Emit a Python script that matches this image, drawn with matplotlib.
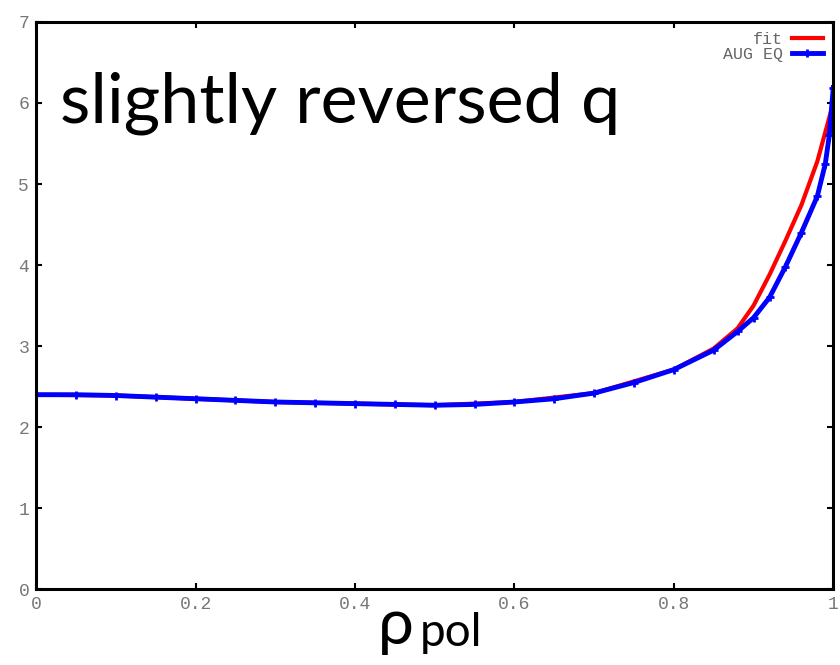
import matplotlib
matplotlib.use("Agg")
import matplotlib.pyplot as plt

# blue: AUG EQ profile, red: fit
rho_eq = [0.0, 0.05, 0.10, 0.15, 0.20, 0.25, 0.30, 0.35, 0.40, 0.45, 0.50, 0.55,
          0.60, 0.65, 0.70, 0.75, 0.80, 0.85, 0.88, 0.90, 0.92, 0.94, 0.96, 0.98,
          0.99, 0.995, 1.0]
q_eq = [2.40, 2.40, 2.39, 2.37, 2.35, 2.33, 2.31, 2.30, 2.29, 2.28, 2.27, 2.28,
        2.31, 2.35, 2.42, 2.55, 2.71, 2.95, 3.18, 3.35, 3.60, 3.98, 4.40, 4.85,
        5.25, 5.60, 6.19]

rho_fit = [0.0, 0.10, 0.20, 0.30, 0.40, 0.50, 0.60, 0.70, 0.80, 0.85, 0.88,
           0.90, 0.92, 0.94, 0.96, 0.98, 1.0]
q_fit = [2.40, 2.39, 2.35, 2.31, 2.29, 2.27, 2.31, 2.42, 2.71, 2.97, 3.22,
         3.50, 3.88, 4.30, 4.74, 5.28, 6.00]

xticks = [0, 0.2, 0.4, 0.6, 0.8, 1]
xticklabels = ["0", "0.2", "0.4", "0.6", "0.8", "1"]
yticks = [0, 1, 2, 3, 4, 5, 6, 7]

fig = plt.figure(figsize=(8.4, 6.65), dpi=100)
ax = fig.add_axes([0.043, 0.114, 0.949, 0.853])

ax.plot(rho_fit, q_fit, color="red", lw=3, label="fit")
ax.plot(rho_eq, q_eq, color="blue", lw=3.5, marker="+", ms=6, mew=2, label="AUG EQ")

ax.set_xlim(0, 1)
ax.set_ylim(0, 7)
ax.set_xticks(xticks)
ax.set_xticklabels(xticklabels)
ax.set_yticks(yticks)
for s in ax.spines.values():
    s.set_linewidth(2.2)
ax.tick_params(direction="in", length=4, width=1.5, top=True, right=True,
               labelsize=13, labelcolor="#777777", pad=5)
for lab in ax.get_xticklabels() + ax.get_yticklabels():
    lab.set_family("Liberation Mono")

leg = ax.legend(loc="upper right", frameon=False, markerfirst=False,
                prop={"family": "Liberation Mono", "size": 12},
                handlelength=1.9, labelspacing=0.0, borderaxespad=0.2,
                handletextpad=0.5)
for t in leg.get_texts():
    t.set_color("#666666")

fig.text(0.072, 0.845, "slightly reversed q", fontsize=50.5, family="Lato",
         color="black", va="center")
fig.text(0.450, 0.058, "ρ", fontsize=46, family="Lato", va="center")
fig.text(0.500, 0.048, "pol", fontsize=33, family="Lato", va="center")

plt.savefig("out.png")
